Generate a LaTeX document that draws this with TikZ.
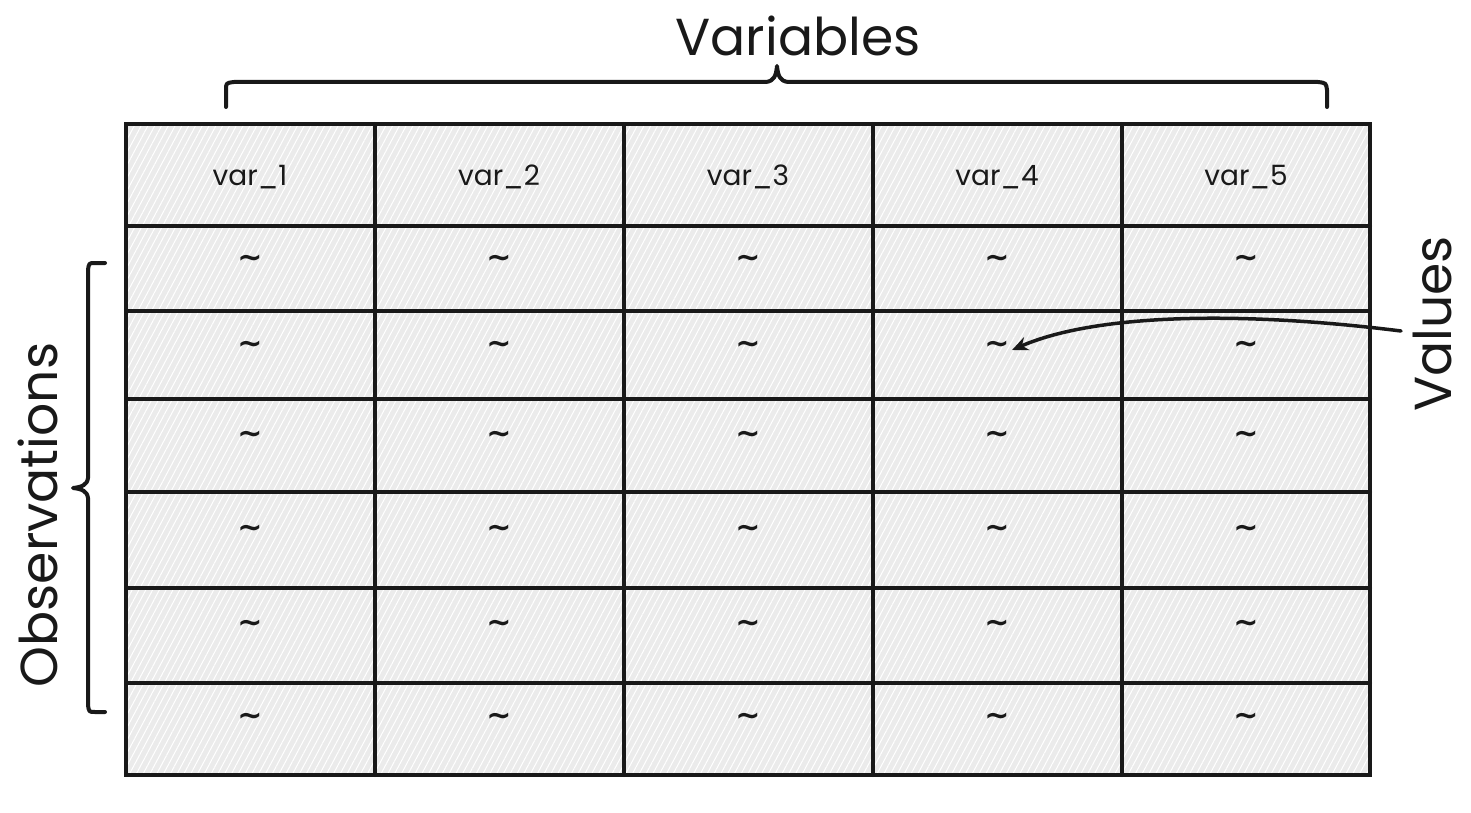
\documentclass[tikz,border=0pt]{standalone}
\usepackage{fontspec}
\setmainfont{Poppins}
\newfontfamily\tildefont{DejaVu Sans}
\usetikzlibrary{patterns.meta,arrows.meta}
\begin{document}
\begin{tikzpicture}[x=1pt,y=-1pt,
  cellfill/.style={preaction={fill=black!8},pattern={Lines[angle=62,distance=6pt,line width=1pt]},pattern color=white},
  gridline/.style={line width=4pt,line cap=round,black!90},
  hdr/.style={font=\fontsize{28}{32}\selectfont,text=black!90},
  val/.style={font=\tildefont\bfseries\fontsize{30}{30}\selectfont,text=black!90},
  bigtxt/.style={font=\fontsize{52}{58}\selectfont,text=black!90},
  brace/.style={line width=4pt,line cap=round,line join=round,black!90}]
\useasboundingbox (0,0) rectangle (1471,813);
\fill[white] (0,0) rectangle (1471,813);
% table background
\path[cellfill] (126,124) rectangle (1370,775);
% grid
\foreach \x in {375,624,873,1122} \draw[gridline] (\x,124) -- (\x,775);
\foreach \y in {226,311,399,492,588,683} \draw[gridline] (126,\y) -- (1370,\y);
\draw[gridline,line width=4.5pt] (126,124) rectangle (1370,775);
% header
\node[hdr] (h1) at (250,177) {var\_1};
\node[hdr] (h2) at (499,177) {var\_2};
\node[hdr] (h3) at (748,177) {var\_3};
\node[hdr] (h4) at (997,177) {var\_4};
\node[hdr] (h5) at (1246,177) {var\_5};
% values
\foreach \r/\y in {1/261,2/347,3/437,4/531,5/626,6/719}{
  \foreach \c/\x in {1/250,2/499,3/748,4/997,5/1246}{
    \node[val] (v\r\c) at (\x,\y) {\textasciitilde};
  }
}
% labels
\node[bigtxt] (vars) at (798,36) {Variables};
\node[bigtxt,rotate=90] (obs) at (38,515) {Observations};
\node[bigtxt,rotate=90] (valsl) at (1432,324) {Values};
% top brace
\draw[brace] (226,107) -- (226,90) .. controls (226,83) .. (234,82) -- (766,82)
  .. controls (774,81) and (776,76) .. (777,66)
  .. controls (778,76) and (780,81) .. (788,82) -- (1318,82)
  .. controls (1326,83) .. (1327,90) -- (1327,107);
% left brace
\draw[brace] (105,263) -- (95,263) .. controls (89,263) .. (88,270) -- (88,478)
  .. controls (87,485) and (82,487) .. (73,488)
  .. controls (82,489) and (87,491) .. (88,498) -- (88,705)
  .. controls (89,712) .. (95,712) -- (105,712);
% arrow
\coordinate (astart) at (1401,331);
\coordinate (tip) at (1012,350);
\draw[line width=3.5pt,line cap=round,black!90,-{Stealth[length=16pt,width=14pt]}] (astart)
  .. controls (1250,312) and (1100,312) .. (tip);
\end{tikzpicture}
\end{document}
